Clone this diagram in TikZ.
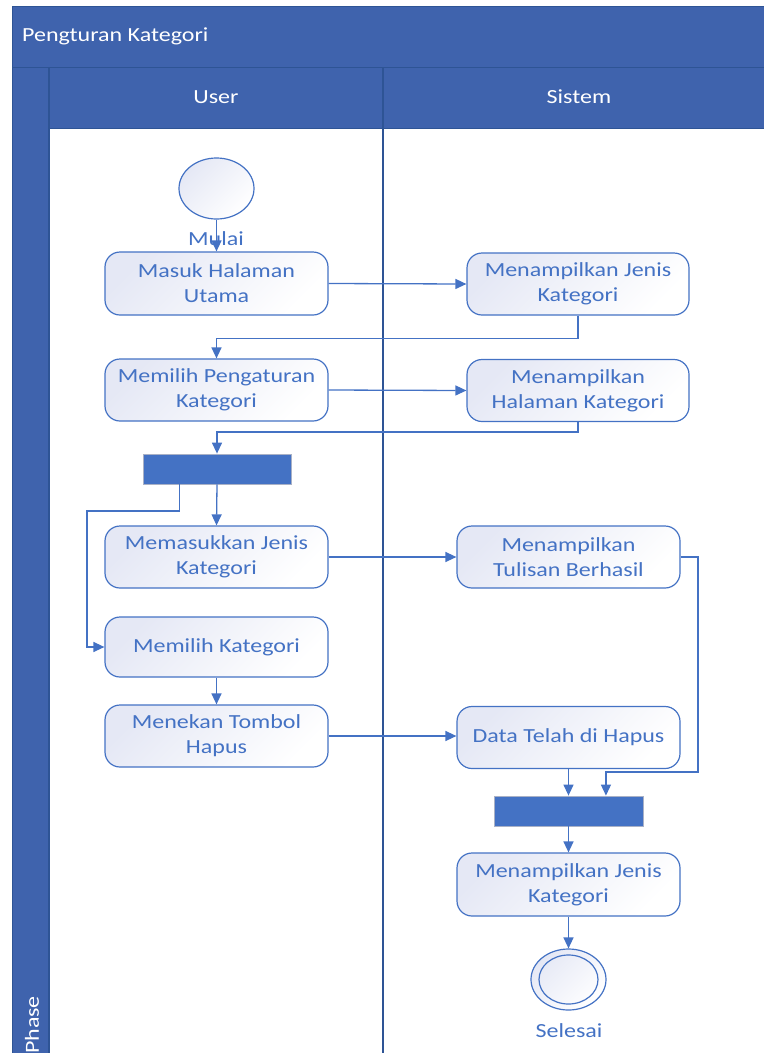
\documentclass[tikz,border=0pt]{standalone}
\usepackage{fontspec}
\setmainfont{Carlito}[FakeStretch=1.2]
\usetikzlibrary{arrows.meta,calc,shapes.geometric}

\definecolor{lanehead}{HTML}{3F63AD}
\definecolor{laneline}{HTML}{2E5495}
\definecolor{ink}{HTML}{4472C4}
\definecolor{tint}{HTML}{E5E8F5}
\definecolor{barline}{HTML}{A9B1C6}

\begin{document}
\begin{tikzpicture}[x=1pt,y=-1pt,
  every node/.style={font=\fontsize{20}{25}\selectfont},
  act/.style={rounded corners=15pt, draw=ink, line width=1.2pt,
    top color=tint, bottom color=white, shading angle=45,
    text=ink, align=center, minimum width=223pt, minimum height=62pt, inner sep=0pt},
  forkbar/.style={fill=ink, draw=barline, line width=0.8pt,
    minimum width=148pt, minimum height=30pt, inner sep=0pt},
  initial/.style={ellipse, draw=ink, line width=1.2pt,
    top color=tint, bottom color=white, shading angle=45,
    minimum width=75pt, minimum height=61pt, inner sep=0pt},
  caption/.style={text=ink, inner sep=0pt},
  headtext/.style={text=white, inner sep=0pt},
  flow/.style={draw=ink, line width=1.3pt, -{Triangle[length=11pt,width=10pt]}}
]
\useasboundingbox (0,0) rectangle (764,1053);

% swimlane frame
\fill[lanehead] (12,6) rectangle (764,67);
\fill[lanehead] (12,67) rectangle (49,1053);
\fill[lanehead] (49,67) rectangle (764,128);
\draw[laneline, line width=1pt] (12,1053) -- (12,6) -- (764,6);
\draw[laneline, line width=1pt] (12,67) -- (764,67);
\draw[laneline, line width=1pt] (49,128) -- (764,128);
\draw[laneline, line width=1.2pt] (49,67) -- (49,1053);
\draw[laneline, line width=1.6pt] (383,67) -- (383,1053);

\node[headtext, anchor=west] (title) at (22,36) {Pengturan Kategori};
\node[headtext] (userlane) at (216,97) {User};
\node[headtext] (syslane) at (579,97) {Sistem};
\node[headtext, rotate=90] (phase) at (32,1025) {Phase};

% activities
\node[initial] (start) at (216.5,188.5) {};
\node[caption] (mulai) at (216,239) {Mulai};
\node[act, minimum height=63pt] (masuk) at (216.5,283.5) {Masuk Halaman\\Utama};
\node[act, minimum width=222pt] (tampil1) at (578,284) {Menampilkan Jenis\\Kategori};
\node[act] (pengaturan) at (216.5,390) {Memilih Pengaturan\\Kategori};
\node[act, minimum width=222pt] (halaman) at (578,390.5) {Menampilkan\\Halaman Kategori};
\node[forkbar] (fork1) at (217,469) {};
\node[act] (masukkan) at (216.5,557) {Memasukkan Jenis\\Kategori};
\node[act, minimum height=60pt] (pilih) at (216.5,647) {Memilih Kategori};
\node[act] (tekan) at (216.5,736) {Menekan Tombol\\Hapus};
\node[act] (berhasil) at (568.5,557) {Menampilkan\\Tulisan Berhasil};
\node[act] (hapus) at (568.5,737.5) {Data Telah di Hapus};
\node[forkbar, minimum width=149pt] (fork2) at (568.5,811) {};
\node[act, minimum height=63pt] (tampil2) at (568.5,884.5) {Menampilkan Jenis\\Kategori};
\node[initial] (final) at (568.5,979.5) {};
\node[ellipse, draw=ink, line width=1.2pt, minimum width=59pt, minimum height=49pt, inner sep=0pt] (finalin) at (final.center) {};
\node[caption] (selesai) at (569,1031) {Selesai};

% connectors
\draw[flow] (start.south) -- (masuk.north);
\draw[flow] (masuk.east) -- (tampil1.west);
\draw[flow] (tampil1.south) -- ++(0,23) -| (pengaturan.north);
\draw[flow] (pengaturan.east) -- (halaman.west);
\draw[flow] (halaman.south) -- ++(0,10) -| (fork1.north);
\draw[flow] (fork1.south) -- (masukkan.north);
\coordinate (f1left) at ($(fork1.south west)!0.25!(fork1.south east)$);
\coordinate (bendA) at (87,511);
\draw[flow] (f1left) |- (bendA) |- (pilih.west);
\draw[flow] (masukkan.east) -- (berhasil.west);
\draw[flow] (pilih.south) -- (tekan.north);
\draw[flow] (tekan.east) -- (tekan.east -| hapus.west);
\coordinate (f2right) at ($(fork2.north west)!0.75!(fork2.north east)$);
\coordinate (bendB) at (698,772);
\draw[flow] (berhasil.east) -| (bendB) -| (f2right);
\draw[flow] (hapus.south) -- (hapus.south |- fork2.north);
\draw[flow] (fork2.south) -- (tampil2.north);
\draw[flow] (tampil2.south) -- (final.north);
\end{tikzpicture}
\end{document}
